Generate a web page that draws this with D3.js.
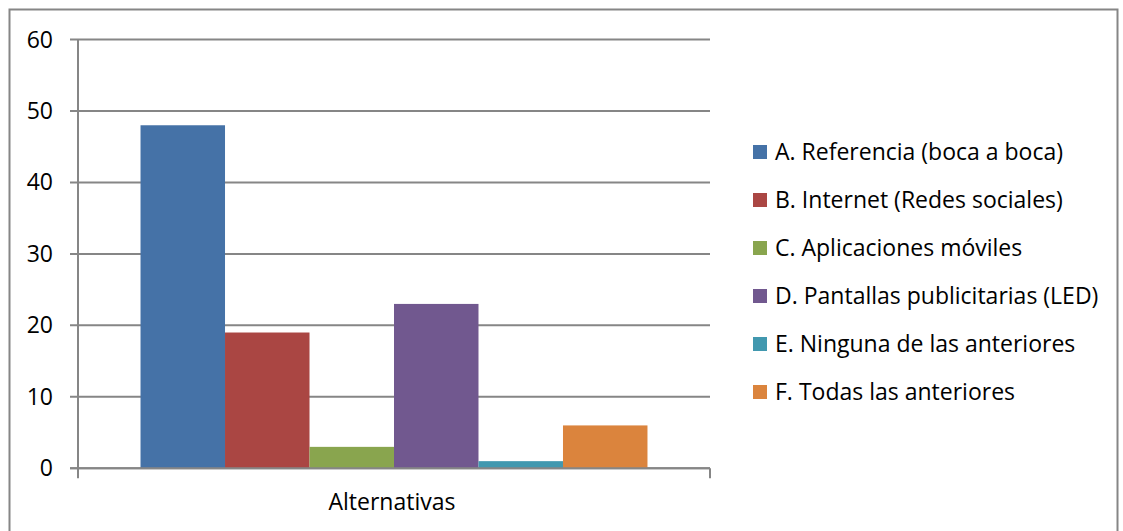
<!DOCTYPE html>
<html>
<head>
<meta charset="utf-8">
<script src="https://cdn.jsdelivr.net/npm/d3@7"></script>
<style>
  html, body { margin: 0; padding: 0; background: #fff; }
  svg { display: block; font-family: "Open Sans", Lato, sans-serif; }
</style>
</head>
<body>
<svg id="chart" width="1123" height="531"></svg>
<script>
// data
const categories = ['Alternativas'];
const seriesNames = [
    'A. Referencia (boca a boca)',
    'B. Internet (Redes sociales)',
    'C. Aplicaciones móviles',
    'D. Pantallas publicitarias (LED)',
    'E. Ninguna de las anteriores',
    'F. Todas las anteriores'
];
const seriesValues = [48, 19, 3, 23, 1, 6];
const seriesColors = ['#4572a7', '#aa4643', '#89a54e', '#71588f', '#4198af', '#db843d'];
const yTicks = [0, 10, 20, 30, 40, 50, 60];

const svg = d3.select('#chart');
const plot = { left: 78, right: 710, top: 39.5, bottom: 468.3 };
const axisColor = '#868686';
const fontSize = 23;

// outer frame
svg.append('rect')
    .attr('x', 9.5).attr('y', 9.5)
    .attr('width', 1108).attr('height', 530)
    .attr('fill', 'none').attr('stroke', axisColor).attr('stroke-width', 2);

const x0 = d3.scaleBand().domain(categories).range([plot.left, plot.right]);
const x1 = d3.scaleBand().domain(seriesNames)
    .range([0, x0.bandwidth()]).paddingOuter(0.74).paddingInner(0);
const y = d3.scaleLinear().domain([0, 60]).range([plot.bottom, plot.top]);

// gridlines
svg.append('g').selectAll('line').data(yTicks).join('line')
    .attr('x1', plot.left - 8).attr('x2', plot.right)
    .attr('y1', d => y(d)).attr('y2', d => y(d))
    .attr('stroke', axisColor).attr('stroke-width', 2);

// y axis line
svg.append('line')
    .attr('x1', plot.left).attr('x2', plot.left)
    .attr('y1', plot.top).attr('y2', plot.bottom + 10)
    .attr('stroke', axisColor).attr('stroke-width', 2);

// x axis end tick
svg.append('line')
    .attr('x1', plot.right).attr('x2', plot.right)
    .attr('y1', plot.bottom).attr('y2', plot.bottom + 10)
    .attr('stroke', axisColor).attr('stroke-width', 2);

// y tick labels
svg.append('g').selectAll('text').data(yTicks).join('text')
    .attr('x', 53).attr('y', d => y(d))
    .attr('dy', '0.35em')
    .attr('text-anchor', 'end')
    .attr('font-size', fontSize).attr('fill', '#000')
    .text(d => d);

// bars
const g = svg.append('g');
categories.forEach(cat => {
    g.selectAll('rect.bar').data(seriesNames).join('rect')
        .attr('class', 'bar')
        .attr('x', d => x0(cat) + x1(d))
        .attr('width', x1.bandwidth())
        .attr('y', (d, i) => y(seriesValues[i]))
        .attr('height', (d, i) => y(0) - y(seriesValues[i]))
        .attr('fill', (d, i) => seriesColors[i]);
});

// redraw baseline on top of bars
svg.append('line')
    .attr('x1', plot.left - 8).attr('x2', plot.right)
    .attr('y1', y(0)).attr('y2', y(0))
    .attr('stroke', axisColor).attr('stroke-width', 2);

// category label
svg.append('text')
    .attr('x', x0(categories[0]) + x0.bandwidth() / 2 - 2)
    .attr('y', 510)
    .attr('text-anchor', 'middle')
    .attr('font-size', fontSize).attr('fill', '#000')
    .text(categories[0]);

// legend
const legend = svg.append('g').attr('transform', 'translate(753,152)');
const rows = legend.selectAll('g').data(seriesNames).join('g')
    .attr('transform', (d, i) => `translate(0,${i * 48})`);
rows.append('rect')
    .attr('x', 0).attr('y', -7)
    .attr('width', 14).attr('height', 14)
    .attr('fill', (d, i) => seriesColors[i]);
rows.append('text')
    .attr('x', 22).attr('y', 0).attr('dy', '0.35em')
    .attr('font-size', fontSize).attr('fill', '#000')
    .text(d => d);
</script>
</body>
</html>
